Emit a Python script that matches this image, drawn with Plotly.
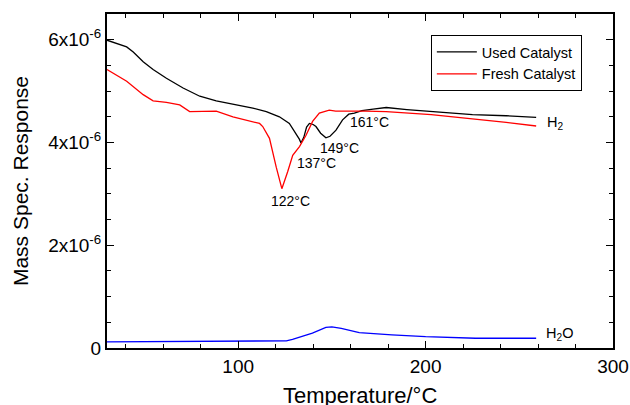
import plotly.graph_objects as go

# Used catalyst (black)
used_T = [30, 35, 40.5, 44, 49.3, 54.6, 61.7, 70.6, 79.5, 88.3, 97.2, 107.8, 115, 122, 127.3, 130, 132.7, 133.5,
          135, 136.5, 138, 140, 141.5, 144, 146.8, 149, 152.2, 155.7, 159, 162, 166, 172, 179, 190, 203, 215, 225, 243, 259]
used_y = [5.99, 5.93, 5.86, 5.76, 5.57, 5.42, 5.25, 5.06, 4.90, 4.81, 4.75, 4.67, 4.60, 4.50, 4.37, 4.22, 4.06, 3.99,
          4.10, 4.30, 4.37, 4.35, 4.31, 4.18, 4.09, 4.12, 4.24, 4.44, 4.55, 4.57, 4.62, 4.65, 4.68, 4.64, 4.60, 4.56, 4.54, 4.52, 4.49]

# Fresh catalyst (red)
fresh_T = [30, 40.5, 49.3, 54.6, 61.7, 68.8, 74.1, 88.3, 97.2, 107.8, 111.4, 113.1, 116.7, 120.3, 123.3, 126.4, 129.1,
           132.7, 136.2, 139.7, 143.3, 148.6, 152, 168, 179, 203, 225, 243, 259]
fresh_y = [5.42, 5.19, 4.93, 4.81, 4.78, 4.73, 4.60, 4.61, 4.50, 4.40, 4.37, 4.31, 4.08, 3.52, 3.10, 3.43, 3.75,
           3.92, 4.14, 4.41, 4.57, 4.63, 4.61, 4.61, 4.60, 4.54, 4.46, 4.39, 4.32]

# H2O (blue)
water_T = [30, 80, 120, 125.7, 129, 132.7, 139.6, 146.8, 150, 155, 164.6, 182, 200, 226.6, 259]
water_y = [0.12, 0.125, 0.13, 0.14, 0.17, 0.21, 0.29, 0.40, 0.41, 0.38, 0.30, 0.255, 0.22, 0.19, 0.19]

peak_labels = ["122°C", "137°C", "149°C", "161°C"]
peak_T = [128, 142, 154, 170]
peak_y = [2.87, 3.61, 3.90, 4.39]

x_ticks = [100, 200, 300]
y_ticks = [0, 2e-6, 4e-6, 6e-6]
y_ticktext = ["0", "2x10<sup>-6</sup>", "4x10<sup>-6</sup>", "6x10<sup>-6</sup>"]

FONT = "Arial, Liberation Sans, sans-serif"
sc = 1e-6

fig = go.Figure()
fig.add_trace(go.Scatter(x=used_T, y=[v * sc for v in used_y], mode="lines", name="Used Catalyst",
                         line=dict(color="black", width=1.3)))
fig.add_trace(go.Scatter(x=fresh_T, y=[v * sc for v in fresh_y], mode="lines", name="Fresh Catalyst",
                         line=dict(color="#ff0000", width=1.3)))
fig.add_trace(go.Scatter(x=water_T, y=[v * sc for v in water_y], mode="lines", name="H2O", showlegend=False,
                         line=dict(color="#0000ff", width=1.3)))

for t, xx, yy in zip(peak_labels, peak_T, peak_y):
    fig.add_annotation(x=xx, y=yy * sc, text=t, showarrow=False, font=dict(family=FONT, size=14, color="black"),
                       xanchor="center", yanchor="middle")

fig.add_annotation(x=263.5, y=4.37 * sc, text="H<sub>2</sub>", showarrow=False, xanchor="left", yanchor="middle",
                   font=dict(family=FONT, size=14.5, color="black"))
fig.add_annotation(x=263, y=0.27 * sc, text="H<sub>2</sub>O", showarrow=False, xanchor="left", yanchor="middle",
                   font=dict(family=FONT, size=14.5, color="black"))

# x-axis title placed below the tick labels
fig.add_annotation(x=0.5, y=-0.141, xref="paper", yref="paper", text="Temperature/°C", showarrow=False,
                   xanchor="center", yanchor="middle", font=dict(family=FONT, size=22, color="black"))

fig.update_layout(
    width=630, height=405,
    margin=dict(l=107, r=17, t=14, b=57),
    paper_bgcolor="white", plot_bgcolor="white",
    font=dict(family=FONT, size=18, color="black"),
    showlegend=True,
    legend=dict(x=0.64, y=0.937, xanchor="left", yanchor="top", bordercolor="black", borderwidth=1,
                bgcolor="white", font=dict(family=FONT, size=14.5), tracegroupgap=0, itemwidth=40),
    xaxis=dict(range=[30, 300], tickvals=x_ticks, ticks="inside", ticklen=7, tickwidth=1, tickcolor="black",
               showline=True, linewidth=2, linecolor="black", mirror="allticks", showgrid=False, zeroline=False,
               automargin=False,
               minor=dict(dtick=20, tick0=0, ticks="inside", ticklen=4, tickcolor="black", showgrid=False),
               tickfont=dict(size=19)),
    yaxis=dict(range=[0, 6.5e-6], tickvals=y_ticks, ticktext=y_ticktext, ticks="inside", ticklen=7, tickwidth=1,
               tickcolor="black", showline=True, linewidth=2, linecolor="black", mirror="allticks", showgrid=False,
               zeroline=False, automargin=False,
               minor=dict(dtick=0.5e-6, tick0=0, ticks="inside", ticklen=4, tickcolor="black", showgrid=False),
               title=dict(text="Mass Spec. Response", font=dict(size=21), standoff=14),
               tickfont=dict(size=19)),
)

fig.write_html("out.html")
